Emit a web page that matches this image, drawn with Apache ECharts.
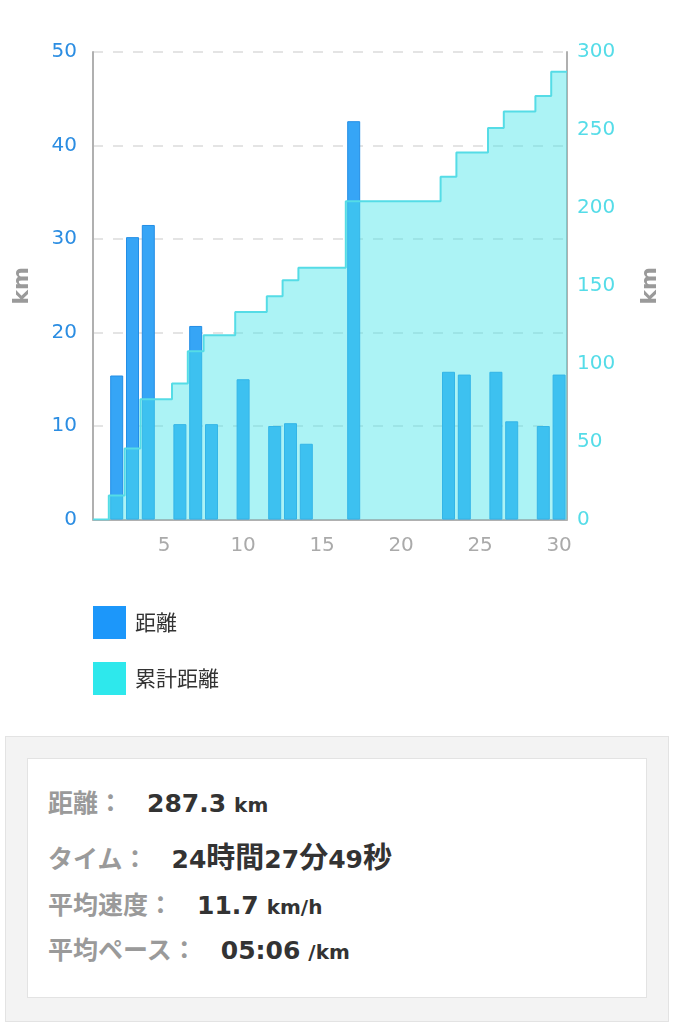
<!DOCTYPE html>
<html>
<head>
<meta charset="utf-8">
<script src="https://cdn.jsdelivr.net/npm/echarts@6/dist/echarts.min.js"></script>
<style>
  body { margin: 0; background: #fff; width: 680px; height: 1024px; position: relative; overflow: hidden; }
  #chart { position: absolute; left: 0; top: 0; width: 680px; height: 720px; }
  #summary { position: absolute; left: 5px; top: 736px; width: 662px; height: 284px; background: #f3f3f3; border: 1px solid #e3e3e3; }
  #summary .inner { position: absolute; left: 21px; top: 21px; width: 618px; height: 238px; background: #fff; border: 1px solid #e3e3e3; }
  .row { position: absolute; left: 20px; height: 40px; line-height: 40px; white-space: nowrap; }
  .lbl { font-family: "Noto Sans CJK JP", sans-serif; font-weight: bold; font-size: 25px; color: #9a9a9a; }
  .val { font-family: "DejaVu Sans", "Noto Sans CJK JP", sans-serif; font-weight: bold; font-size: 25px; color: #333; margin-left: 24px; }
  .val .cj { font-family: "Noto Sans CJK JP", sans-serif; font-size: 29px; }
  .unit { font-family: "DejaVu Sans", sans-serif; font-weight: bold; font-size: 20px; color: #333; margin-left: 8px; }
</style>
</head>
<body>
<div id="chart"></div>
<div id="summary"><div class="inner" id="inner"></div></div>
<script>
// days of the month
var days = [1, 2, 3, 4, 5, 6, 7, 8, 9, 10, 11, 12, 13, 14, 15,
            16, 17, 18, 19, 20, 21, 22, 23, 24, 25, 26, 27, 28, 29, 30];
// daily distance (km)
var distance = [0, 15.4, 30.2, 31.5, 0, 10.2, 20.7, 10.2, 0, 15.0, 0, 10.0, 10.3, 8.1, 0,
                0, 42.6, 0, 0, 0, 0, 0, 15.8, 15.5, 0, 15.8, 10.5, 0, 10.0, 15.5];
// cumulative distance (km)
var cumulative = [0, 15.4, 45.6, 77.1, 77.1, 87.3, 108.0, 118.2, 118.2, 133.2, 133.2, 143.2, 153.5, 161.6, 161.6,
                  161.6, 204.2, 204.2, 204.2, 204.2, 204.2, 204.2, 220.0, 235.5, 235.5, 251.3, 261.8, 261.8, 271.8, 287.3];
var xTicks = [5, 10, 15, 20, 25, 30];

// summary rows
var summaryLabels = ['距離：', 'タイム：', '平均速度：', '平均ペース：'];
var summaryValues = ['287.3', '24時間27分49秒', '11.7', '05:06'];
var summaryUnits = ['km', '', 'km/h', '/km'];
var rowTops = [22, 76, 124, 169];

var inner = document.getElementById('inner');
summaryLabels.forEach(function (l, i) {
    var row = document.createElement('div');
    row.className = 'row';
    row.style.top = rowTops[i] + 'px';
    var v = summaryValues[i].replace(/([^\x00-\x7F]+)/g, '<span class="cj">$1</span>');
    row.innerHTML = '<span class="lbl">' + l + '</span><span class="val">' + v + '</span>' +
        (summaryUnits[i] ? '<span class="unit">' + summaryUnits[i] + '</span>' : '');
    inner.appendChild(row);
});

var barData = days.map(function (d, i) { return distance[i] > 0 ? [d, distance[i]] : [d, '-']; });
var stepData = days.map(function (d, i) { return [d - 0.5, cumulative[i]]; });
stepData.push([days[days.length - 1] + 0.5, cumulative[cumulative.length - 1]]);

var chart = echarts.init(document.getElementById('chart'));
var axisFont = 'DejaVu Sans';
chart.setOption({
    animation: false,
    grid: { left: 93, right: 113, top: 52, bottom: 200.5 },
    legend: {
        orient: 'vertical',
        left: 93,
        top: 606,
        padding: 0,
        icon: 'rect',
        itemWidth: 33,
        itemHeight: 33,
        itemGap: 23,
        textStyle: { fontFamily: 'Noto Sans CJK JP', fontSize: 21, color: '#333', padding: [0, 0, 0, 4] },
        data: [
            { name: '距離', itemStyle: { color: '#1c97fa', borderWidth: 0 } },
            { name: '累計距離', itemStyle: { color: '#2ee8ec', borderWidth: 0 }, lineStyle: { width: 0 } }
        ]
    },
    xAxis: {
        type: 'value',
        min: 0.5,
        max: 30.5,
        axisLine: { show: true, lineStyle: { color: '#b0b0b0', width: 2 } },
        axisTick: { show: false },
        splitLine: { show: false },
        axisLabel: { customValues: xTicks, color: '#aaa', fontFamily: axisFont, fontSize: 20, margin: 16 }
    },
    yAxis: [
        {
            type: 'value',
            min: 0,
            max: 50,
            interval: 10,
            position: 'left',
            name: 'km',
            nameLocation: 'middle',
            nameRotate: 90,
            nameGap: 60,
            nameTextStyle: { color: '#9a9a9a', fontFamily: axisFont, fontWeight: 'bold', fontSize: 22 },
            axisLine: { show: true, lineStyle: { color: '#b0b0b0', width: 2 } },
            axisTick: { show: false },
            axisLabel: { color: '#2b8de2', fontFamily: axisFont, fontSize: 20, margin: 16 },
            splitLine: { show: true, lineStyle: { color: '#dcdcdc', width: 1.5, type: [10, 10] } }
        },
        {
            type: 'value',
            min: 0,
            max: 300,
            interval: 50,
            position: 'right',
            name: 'km',
            nameLocation: 'middle',
            nameRotate: 90,
            nameGap: 72,
            nameTextStyle: { color: '#9a9a9a', fontFamily: axisFont, fontWeight: 'bold', fontSize: 22 },
            axisLine: { show: true, lineStyle: { color: '#b0b0b0', width: 2 } },
            axisTick: { show: false },
            axisLabel: { color: '#55dce8', fontFamily: axisFont, fontSize: 20, margin: 10 },
            splitLine: { show: false }
        }
    ],
    series: [
        {
            name: '距離',
            type: 'bar',
            yAxisIndex: 0,
            barWidth: 13,
            data: barData,
            itemStyle: { color: '#36a5f6', borderColor: '#238ee6', borderWidth: 1 }
        },
        {
            name: '累計距離',
            type: 'line',
            yAxisIndex: 1,
            step: 'end',
            showSymbol: false,
            data: stepData,
            lineStyle: { color: '#55dce6', width: 2 },
            itemStyle: { color: '#2ee8ec' },
            areaStyle: { color: 'rgba(70,228,232,0.45)', opacity: 1 }
        }
    ]
});
</script>
</body>
</html>
